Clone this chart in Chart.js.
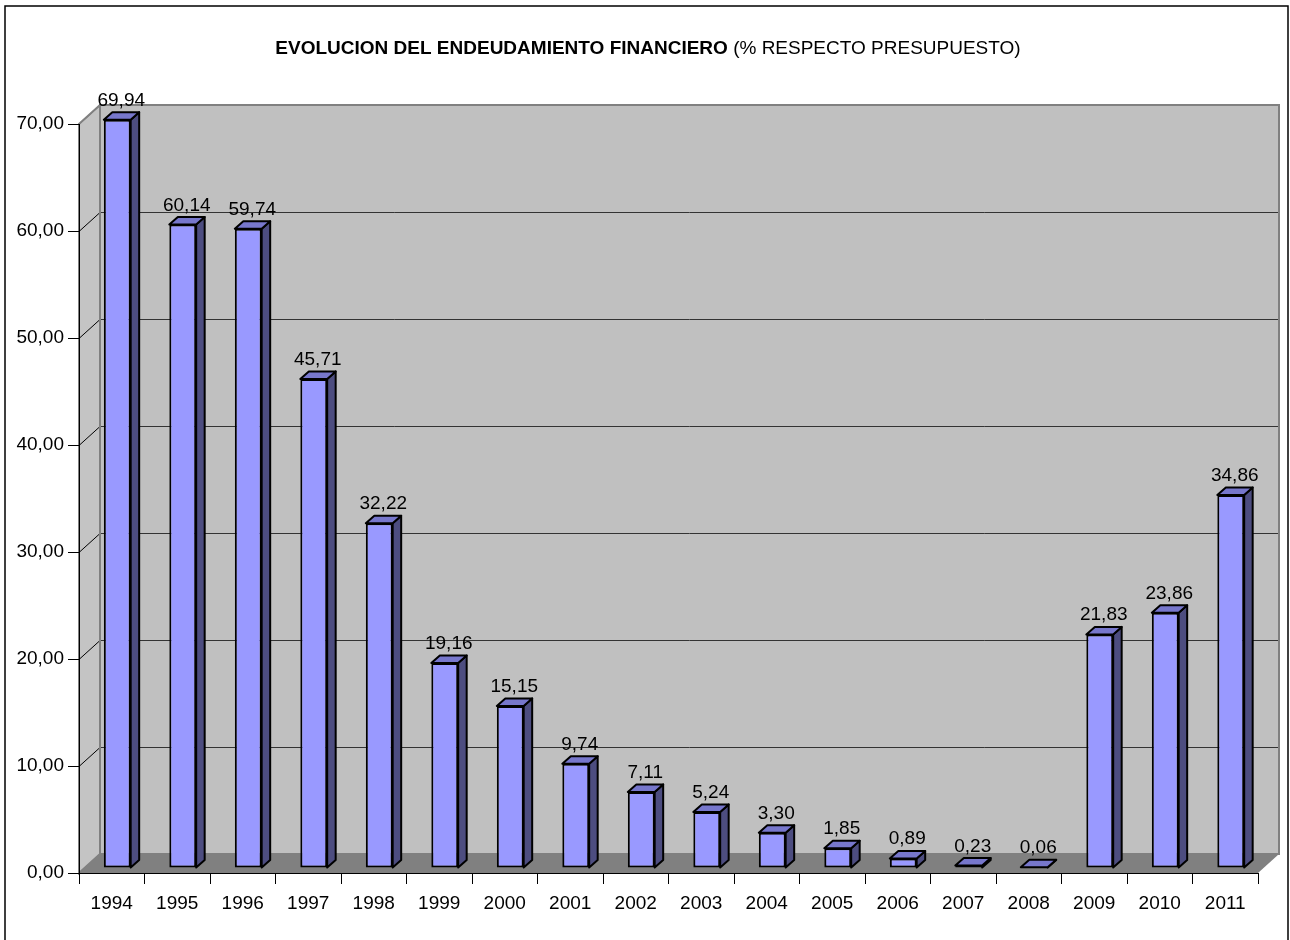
<!DOCTYPE html>
<html lang="es">
<head>
  <meta charset="UTF-8" />
  <title>Endeudamiento financiero</title>
  <script src="https://cdn.jsdelivr.net/npm/chart.js"></script>
  <style>
    html, body { margin: 0; padding: 0; background: #fff; }
    canvas { display: block; }
  </style>
</head>
<body>
  <canvas id="deudaChart" width="1290" height="940" style="width:1290px;height:940px"></canvas>

  <script>
    const years = ['1994', '1995', '1996', '1997', '1998', '1999', '2000', '2001', '2002',
                   '2003', '2004', '2005', '2006', '2007', '2008', '2009', '2010', '2011'];
    const debtPct = [69.94, 60.14, 59.74, 45.71, 32.22, 19.16, 15.15, 9.74, 7.11,
                     5.24, 3.30, 1.85, 0.89, 0.23, 0.06, 21.83, 23.86, 34.86];
    const yTickValues = [0, 10, 20, 30, 40, 50, 60, 70];

    const FONT = '"Liberation Sans", Arial, sans-serif';
    const FS = 19;
    // depth of the 3d box and of the bars inside it
    const WALL_DX = 21, WALL_DY = 19;
    const BAR_DX = 5.5, BAR_DY = 5;
    const BAR_DEPTH_X = 8.5, BAR_DEPTH_Y = 7.5;

    function comma(v) {
      return v.toFixed(2).replace('.', ',');
    }

    const box3d = {
      id: 'box3d',
      beforeDraw(chart) {
        const ctx = chart.ctx;
        const a = chart.chartArea;
        const y = chart.scales.y;
        ctx.save();
        ctx.fillStyle = '#fff';
        ctx.fillRect(0, 0, chart.width, chart.height);

        // outer frame
        ctx.strokeStyle = '#000';
        ctx.lineWidth = 1.5;
        ctx.beginPath();
        ctx.moveTo(5, 945);
        ctx.lineTo(5, 6);
        ctx.lineTo(1288, 6);
        ctx.lineTo(1288, 945);
        ctx.stroke();

        // title: bold part + normal part
        const bold = 'EVOLUCION DEL ENDEUDAMIENTO FINANCIERO';
        const normal = ' (% RESPECTO PRESUPUESTO)';
        ctx.font = 'bold ' + FS + 'px ' + FONT;
        const wb = ctx.measureText(bold).width;
        ctx.font = FS + 'px ' + FONT;
        const wn = ctx.measureText(normal).width;
        let tx = 648 - (wb + wn) / 2;
        ctx.fillStyle = '#000';
        ctx.textBaseline = 'alphabetic';
        ctx.textAlign = 'left';
        ctx.font = 'bold ' + FS + 'px ' + FONT;
        ctx.fillText(bold, tx, 54);
        ctx.font = FS + 'px ' + FONT;
        ctx.fillText(normal, tx + wb, 54);

        const bx0 = a.left + WALL_DX, bx1 = a.right + WALL_DX;
        const by0 = a.top - WALL_DY, by1 = a.bottom - WALL_DY;

        // back wall
        ctx.fillStyle = '#c0c0c0';
        ctx.fillRect(bx0, by0, bx1 - bx0, by1 - by0);
        // left wall
        ctx.beginPath();
        ctx.moveTo(a.left, a.bottom);
        ctx.lineTo(bx0, by1);
        ctx.lineTo(bx0, by0);
        ctx.lineTo(a.left, a.top);
        ctx.closePath();
        ctx.fillStyle = '#c4c4c4';
        ctx.fill();
        ctx.strokeStyle = '#808080';
        ctx.lineWidth = 2;
        ctx.stroke();
        // floor
        ctx.beginPath();
        ctx.moveTo(a.left, a.bottom);
        ctx.lineTo(a.right, a.bottom);
        ctx.lineTo(bx1, by1);
        ctx.lineTo(bx0, by1);
        ctx.closePath();
        ctx.fillStyle = '#808080';
        ctx.fill();

        // gridlines on back and left wall
        ctx.lineWidth = 1;
        yTickValues.forEach(v => {
          const py = Math.round(y.getPixelForValue(v)) + 0.5;
          if (v > 0 && v < yTickValues[yTickValues.length - 1]) {
            ctx.strokeStyle = '#333';
            ctx.beginPath();
            ctx.moveTo(bx0, py - WALL_DY);
            ctx.lineTo(bx1, py - WALL_DY);
            ctx.stroke();
          }
          if (v > 0) {
            ctx.strokeStyle = v === yTickValues[yTickValues.length - 1] ? '#808080' : '#000';
            ctx.beginPath();
            ctx.moveTo(a.left, py);
            ctx.lineTo(bx0, py - WALL_DY);
            ctx.stroke();
          }
        });

        // back wall border
        ctx.strokeStyle = '#808080';
        ctx.lineWidth = 2;
        ctx.strokeRect(bx0, by0, bx1 - bx0, by1 - by0);
        ctx.restore();
      },
      beforeDatasetsDraw(chart) {
        const ctx = chart.ctx;
        ctx.save();
        ctx.translate(BAR_DX, -BAR_DY);
        chart.getDatasetMeta(0).data.forEach(el => {
          const x1 = el.x - el.width / 2, x2 = el.x + el.width / 2;
          const yt = el.y, yb = el.base;
          ctx.lineWidth = 2;
          ctx.strokeStyle = '#000';
          ctx.lineJoin = 'round';
          // side face
          ctx.beginPath();
          ctx.moveTo(x2, yt);
          ctx.lineTo(x2 + BAR_DEPTH_X, yt - BAR_DEPTH_Y);
          ctx.lineTo(x2 + BAR_DEPTH_X, yb - BAR_DEPTH_Y);
          ctx.lineTo(x2, yb);
          ctx.closePath();
          ctx.fillStyle = '#4d4d80';
          ctx.fill();
          ctx.stroke();
          // top face
          ctx.beginPath();
          ctx.moveTo(x1, yt);
          ctx.lineTo(x1 + BAR_DEPTH_X, yt - BAR_DEPTH_Y);
          ctx.lineTo(x2 + BAR_DEPTH_X, yt - BAR_DEPTH_Y);
          ctx.lineTo(x2, yt);
          ctx.closePath();
          ctx.fillStyle = '#7777cc';
          ctx.fill();
          ctx.stroke();
        });
      },
      afterDatasetsDraw(chart) {
        const ctx = chart.ctx;
        ctx.restore();
        ctx.save();
        ctx.fillStyle = '#000';
        ctx.font = FS + 'px ' + FONT;
        ctx.textAlign = 'center';
        ctx.textBaseline = 'alphabetic';
        chart.getDatasetMeta(0).data.forEach((el, i) => {
          ctx.fillText(comma(debtPct[i]), el.x + BAR_DX + 4, el.y - BAR_DY - 14);
        });
        ctx.restore();
      }
    };

    new Chart(document.getElementById('deudaChart').getContext('2d'), {
      type: 'bar',
      data: {
        labels: years,
        datasets: [{
          data: debtPct,
          backgroundColor: '#9999ff',
          borderColor: '#000',
          borderWidth: 2,
          borderSkipped: false,
          categoryPercentage: 1,
          barPercentage: 0.41,
          clip: false
        }]
      },
      options: {
        responsive: false,
        animation: false,
        devicePixelRatio: 1,
        layout: { padding: { left: 0, right: 32, top: 124, bottom: 0 } },
        plugins: {
          legend: { display: false },
          tooltip: { enabled: false }
        },
        scales: {
          x: {
            offset: true,
            grid: { offset: true, drawOnChartArea: false, tickLength: 11, color: '#000' },
            border: { color: '#000', width: 1 },
            ticks: {
              color: '#000', padding: 8, maxRotation: 0, autoSkip: false,
              font: { family: FONT, size: FS }
            },
            afterFit(s) { s.height = 67; }
          },
          y: {
            min: 0,
            max: 70,
            afterBuildTicks(s) { s.ticks = yTickValues.map(v => ({ value: v })); },
            grid: { drawOnChartArea: false, tickLength: 11, color: '#000' },
            border: { color: '#000', width: 1 },
            ticks: {
              color: '#000', padding: 4,
              font: { family: FONT, size: FS },
              callback: v => comma(v)
            },
            afterFit(s) { s.width = 79; }
          }
        }
      },
      plugins: [box3d]
    });
  </script>
</body>
</html>
